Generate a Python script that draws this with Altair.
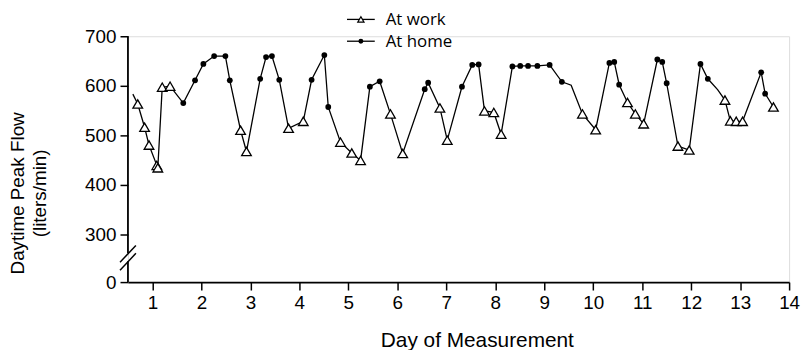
import altair as alt
import pandas as pd

# Day of measurement (x), daytime peak flow (y), and where it was measured
day = [0.60, 0.70, 0.84, 0.93, 1.09, 1.11, 1.20, 1.36, 1.63, 1.87, 2.04, 2.26, 2.49, 2.58,
       2.80, 2.92, 3.20, 3.32, 3.44, 3.59, 3.78, 4.08, 4.25, 4.51, 4.59, 4.84, 5.07, 5.25,
       5.44, 5.64, 5.86, 6.11, 6.56, 6.63, 6.87, 7.02, 7.32, 7.53, 7.66, 7.78, 7.97, 8.12,
       8.35, 8.51, 8.67, 8.86, 9.11, 9.36, 9.55, 9.78, 10.05, 10.33, 10.43, 10.53, 10.70,
       10.86, 11.03, 11.31, 11.41, 11.50, 11.73, 11.96, 12.19, 12.34, 12.54, 12.69, 12.80,
       12.92, 13.05, 13.43, 13.51, 13.68]
flow = [583, 563, 516, 480, 439, 434, 597, 599, 565, 611, 644, 660, 660, 611,
        510, 467, 614, 658, 660, 612, 514, 528, 612, 662, 557, 486, 464, 449,
        598, 609, 543, 463, 593, 606, 555, 490, 598, 642, 643, 549, 546, 502,
        639, 640, 640, 640, 642, 608, 601, 543, 511, 646, 648, 602, 566,
        543, 523, 653, 648, 605, 478, 470, 644, 614, 592, 571, 529,
        528, 528, 627, 584, 557]
place = ["none", "work", "work", "work", "work", "work", "work", "work", "home", "home", "home", "home", "home", "home",
         "work", "work", "home", "home", "home", "home", "work", "work", "home", "home", "home", "work", "work", "work",
         "home", "home", "work", "work", "home", "home", "work", "work", "home", "home", "home", "work", "work", "work",
         "home", "home", "home", "home", "home", "home", "none", "work", "work", "home", "home", "home", "work",
         "work", "work", "home", "home", "home", "work", "work", "home", "home", "none", "work", "work",
         "work", "work", "home", "home", "work"]

x_ticks = list(range(1, 15))
y_ticks = [203, 300, 400, 500, 600, 700]   # 203 is where the broken axis shows "0"
legend_labels = ["At work", "At home"]

df = pd.DataFrame({"day": day, "flow": flow, "place": place, "order": range(len(day))})

FONT = "Liberation Sans"
W, H = 667, 248

xs = alt.Scale(domain=[0.5, 14], nice=False, zero=False)
ys = alt.Scale(domain=[203, 700], nice=False, zero=False)

base = alt.Chart(df)

line = base.mark_line(color="black", strokeWidth=1.3).encode(
    x=alt.X("day:Q", scale=xs, axis=alt.Axis(
        values=x_ticks, title="Day of Measurement", titleFontSize=21, titleFontWeight="normal",
        titleFont=FONT, titleX=352, titleY=59, titleBaseline="middle", labelFontSize=19,
        labelFont=FONT, tickSize=8, tickWidth=1.5, domainWidth=1.8, domainColor="black",
        tickColor="black", labelColor="black", titleColor="black", labelPadding=4,
        grid=False, labelFlush=False)),
    y=alt.Y("flow:Q", scale=ys, axis=alt.Axis(
        values=y_ticks, labelExpr="datum.value < 250 ? '0' : datum.label",
        title=["Daytime Peak Flow", "(liters/min)"], titleFontSize=19, titleFontWeight="normal",
        titleFont=FONT, titleX=-120, titleY=158, titleAlign="center", titleBaseline="top",
        titleLineHeight=22, labelFontSize=19, labelFont=FONT, tickSize=8, tickWidth=1.5,
        domain=False, tickColor="black", labelColor="black", titleColor="black",
        labelPadding=4, grid=False)),
    order="order:Q",
)

work_pts = base.transform_filter("datum.place == 'work'").mark_point(
    shape="triangle-up", filled=True, fill="white", stroke="black", strokeWidth=1.3,
    size=95, opacity=1).encode(x=alt.X("day:Q", scale=xs), y=alt.Y("flow:Q", scale=ys))

home_pts = base.transform_filter("datum.place == 'home'").mark_circle(
    color="black", size=34, opacity=1).encode(x=alt.X("day:Q", scale=xs), y=alt.Y("flow:Q", scale=ys))

# broken y axis line and break marks (decoration, in pixels of the plot frame)
ax1 = alt.Chart().mark_rule(color="black", strokeWidth=1.8).encode(
    x=alt.value(0), y=alt.value(0), y2=alt.value(219))
ax2 = alt.Chart().mark_rule(color="black", strokeWidth=1.8).encode(
    x=alt.value(0), y=alt.value(227), y2=alt.value(H))
sl1 = alt.Chart().mark_rule(color="black", strokeWidth=1.5).encode(
    x=alt.value(-8), x2=alt.value(8), y=alt.value(228), y2=alt.value(211))
sl2 = alt.Chart().mark_rule(color="black", strokeWidth=1.5).encode(
    x=alt.value(-8), x2=alt.value(8), y=alt.value(236), y2=alt.value(219))

# legend
LFONT = "Open Sans"
lg_line1 = alt.Chart().mark_rule(color="black", strokeWidth=1.3).encode(
    x=alt.value(221), x2=alt.value(249), y=alt.value(-17))
lg_line2 = alt.Chart().mark_rule(color="black", strokeWidth=1.3).encode(
    x=alt.value(221), x2=alt.value(249), y=alt.value(5))
lg_tri = alt.Chart().mark_point(shape="triangle-up", filled=True, fill="white", stroke="black",
                                strokeWidth=1.2, size=40, opacity=1).encode(
    x=alt.value(235), y=alt.value(-17))
lg_dot = alt.Chart().mark_circle(color="black", size=24, opacity=1).encode(
    x=alt.value(235), y=alt.value(5))
lg_t1 = alt.Chart().mark_text(text=legend_labels[0], font=LFONT, fontSize=17, align="left",
                              baseline="middle", color="black").encode(x=alt.value(260), y=alt.value(-16))
lg_t2 = alt.Chart().mark_text(text=legend_labels[1], font=LFONT, fontSize=17, align="left",
                              baseline="middle", color="black").encode(x=alt.value(260), y=alt.value(6))

chart = alt.layer(
    line, work_pts, home_pts, ax1, ax2, sl1, sl2,
    lg_line1, lg_line2, lg_tri, lg_dot, lg_t1, lg_t2
).properties(
    width=W, height=H,
    autosize=alt.AutoSizeParams(type="none"),
    padding={"left": 121, "top": 27, "right": 12, "bottom": 67},
).configure_view(stroke=None).configure(background="white")

chart.save("out.html", embed_options={"renderer": "svg", "actions": False})
